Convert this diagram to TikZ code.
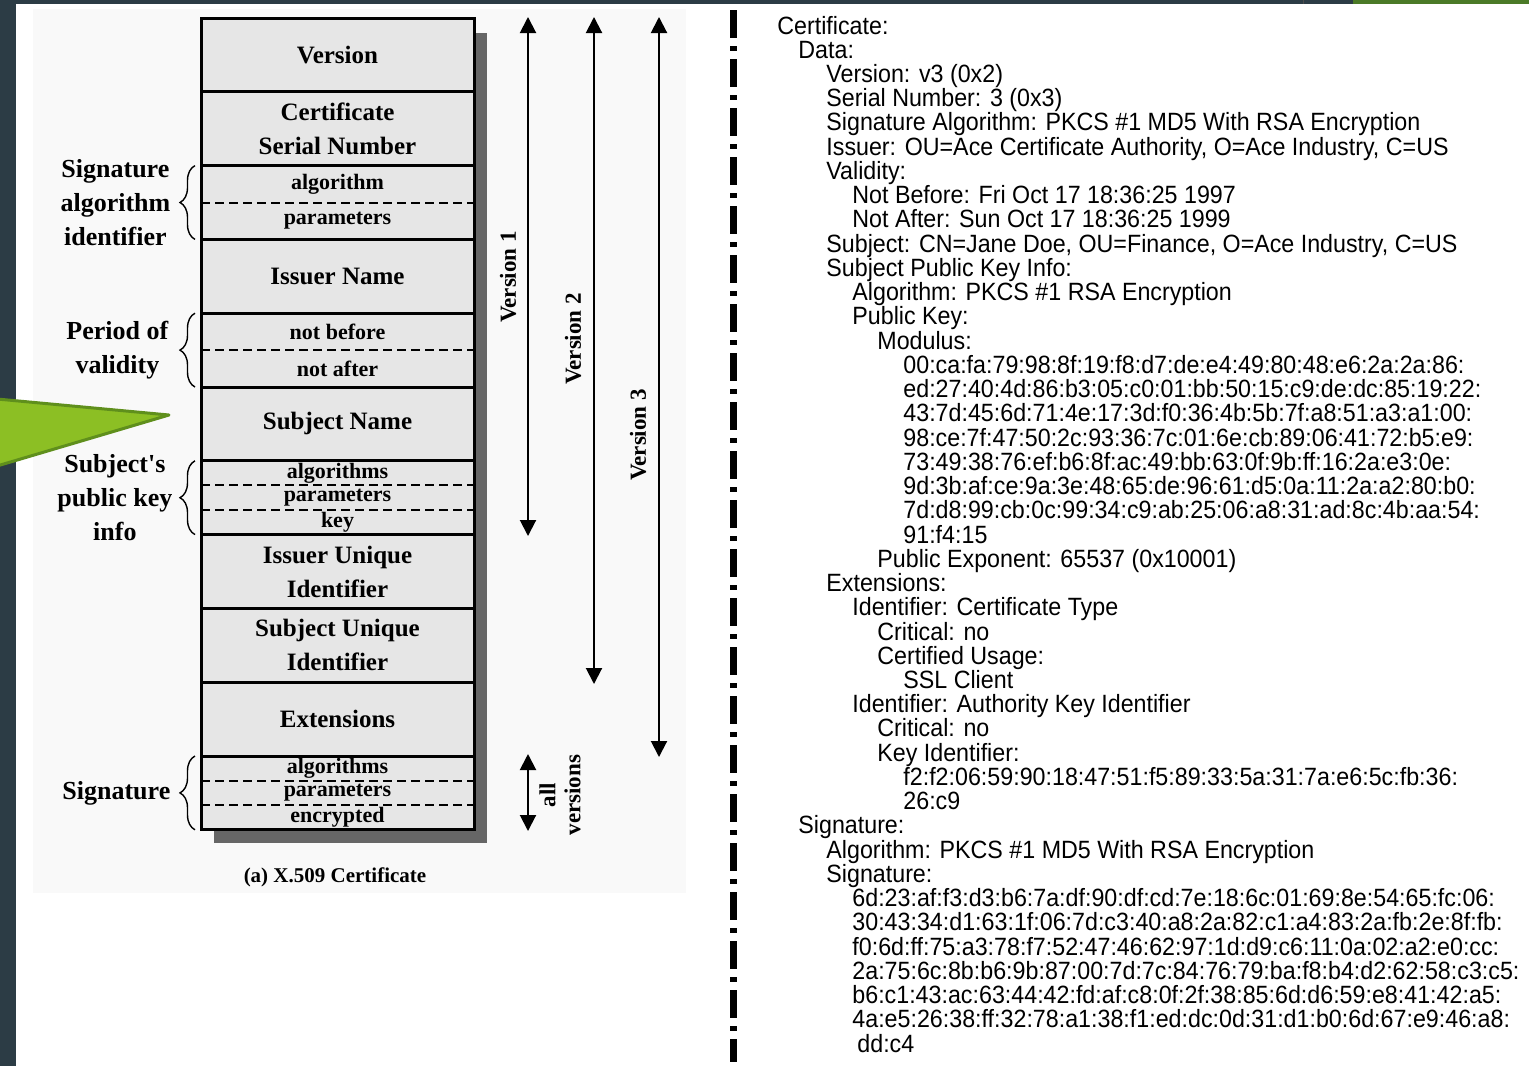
\documentclass[tikz,border=0pt]{standalone}
\usepackage{fontspec}
\setmainfont{Liberation Serif}
\newfontfamily\certfont{Liberation Sans}[FakeStretch=0.93]
\usetikzlibrary{arrows.meta,decorations.pathreplacing,calc}

\definecolor{slate}{HTML}{2C3C45}
\definecolor{leafgreen}{HTML}{8CBF24}
\definecolor{leafedge}{HTML}{5F8F1C}
\definecolor{topgreen}{HTML}{4B7A27}
\definecolor{fieldgray}{HTML}{E6E6E6}
\definecolor{shadowgray}{HTML}{666666}
\definecolor{panelgray}{HTML}{F9F9F9}

\tikzset{
  field/.style={draw, fill=fieldgray, line width=1.5pt, minimum width=136.5pt, minimum height=36.9pt,
    outer sep=0pt, inner sep=0pt, align=center, font=\fontsize{12.5}{17}\selectfont\bfseries},
  subfield/.style={inner sep=0pt, font=\fontsize{11}{11}\selectfont\bfseries},
  dashsep/.style={line width=1pt, dash pattern=on 4.5pt off 2.5pt},
  lbrace/.style={decorate, decoration={brace, amplitude=7.5pt}, line width=0.7pt},
  lbl/.style={inner sep=0pt, align=center, font=\fontsize{13}{17}\selectfont\bfseries},
  varrow/.style={{Triangle[length=8pt,width=8pt]}-{Triangle[length=8pt,width=8pt]}, line width=1pt},
  vlbl/.style={rotate=90, align=center, font=\fontsize{11.5}{12.5}\selectfont\bfseries},
  certline/.style={anchor=base west, inner sep=0pt, font=\certfont\fontsize{12.5}{12}\selectfont}
}

\begin{document}
\begin{tikzpicture}[x=0.5pt,y=-0.5pt]
  \useasboundingbox (0,0) rectangle (1529,1066);
  % frame of the slide
  \fill[white] (0,0) rectangle (1529,1066);
  \fill[slate] (0,0) rectangle (16,1066);
  \fill[slate] (0,0) rectangle (1529,4);
  \fill[topgreen] (1353,0) rectangle (1529,4);
  \draw[black!70, line width=0.5pt] (1303,0) -- (1303,4);
  \fill[panelgray] (33,9) rectangle (686,893);
  \filldraw[fill=leafgreen, draw=leafedge, line width=1.5pt, line join=round] (-3,399) -- (169,415) -- (-3,466) -- cycle;

  % certificate fields
  \fill[shadowgray] (214,33) rectangle (487,843);
  \foreach \nm/\txt [count=\i] in {ver/Version, csn/{Certificate\\Serial Number}, salg/{}, iss/{Issuer Name},
      val/{}, subj/{Subject Name}, pki/{}, iui/{Issuer Unique\\Identifier}, sui/{Subject Unique\\Identifier},
      ext/Extensions, sig/{}}
    \node[field] (\nm) at (337.5, {18+73.8*(\i-0.5)}) {\txt};

  \draw[dashsep] (salg.west) -- (salg.east);
  \node[subfield] (salg1) at ($(salg.north)!0.25!(salg.south)$) {algorithm};
  \node[subfield] (salg2) at ($(salg.north)!0.75!(salg.south)$) {parameters};

  \draw[dashsep] (val.west) -- (val.east);
  \node[subfield] (val1) at ($(val.north)!0.25!(val.south)$) {not before};
  \node[subfield] (val2) at ($(val.north)!0.75!(val.south)$) {not after};

  \foreach \nm/\ta/\tb/\tc in {pki/algorithms/parameters/key, sig/algorithms/parameters/encrypted} {
    \draw[dashsep] ($(\nm.north west)!1/3!(\nm.south west)$) -- ($(\nm.north east)!1/3!(\nm.south east)$);
    \draw[dashsep] ($(\nm.north west)!2/3!(\nm.south west)$) -- ($(\nm.north east)!2/3!(\nm.south east)$);
    \node[subfield] (\nm1) at ($(\nm.north)!1/6!(\nm.south)$) {\ta};
    \node[subfield] (\nm2) at (\nm.center) {\tb};
    \node[subfield] (\nm3) at ($(\nm.north)!5/6!(\nm.south)$) {\tc};
  }

  % braces on the left
  \draw[lbrace] ([xshift=-3pt]salg.south west) -- ([xshift=-3pt]salg.north west)
    node[midway, left=12pt, lbl] (salgl) {Signature\\algorithm\\identifier};
  \draw[lbrace] ([xshift=-3pt]val.south west) -- ([xshift=-3pt]val.north west)
    node[midway, left=13pt, lbl] (vall) {Period of\\validity};
  \draw[lbrace] ([xshift=-3pt]pki.south west) -- ([xshift=-3pt]pki.north west)
    node[midway, left=11pt, lbl] (pkil) {Subject\textquotesingle s\\public key\\info};
  \draw[lbrace] ([xshift=-3pt]sig.south west) -- ([xshift=-3pt]sig.north west)
    node[midway, left=12pt, lbl] (sigl) {Signature};

  \node[font=\fontsize{10.5}{12}\selectfont\bfseries] (cap) at (335,877) {(a) X.509 Certificate};

  % version ranges
  \coordinate (v1t) at (528,17);  \coordinate (v1b) at (528,536);
  \coordinate (v2t) at (594,17);  \coordinate (v2b) at (594,684);
  \coordinate (v3t) at (659,17);  \coordinate (v3b) at (659,757);
  \coordinate (avt) at (528,754); \coordinate (avb) at (528,831);
  \draw[varrow] (v1t) -- (v1b);
  \draw[varrow] (v2t) -- (v2b);
  \draw[varrow] (v3t) -- (v3b);
  \draw[varrow] (avt) -- (avb);
  \node[vlbl] (v1l) at (508,277) {Version 1};
  \node[vlbl] (v2l) at (573,339) {Version 2};
  \node[vlbl] (v3l) at (638,435) {Version 3};
  \node[vlbl] (avl) at (560,795) {all\\versions};

  \draw[line width=3.5pt, dash pattern=on 14pt off 4pt on 2.5pt off 4pt] (733,10) -- (733,1062);

  % printed certificate
  \foreach \x/\t [count=\i] in {
      777/{Certificate:},
      798/{Data:},
      826/{Version: v3 (0x2)},
      826/{Serial Number: 3 (0x3)},
      826/{Signature Algorithm: PKCS \#1 MD5 With RSA Encryption},
      826/{Issuer: OU=Ace Certificate Authority, O=Ace Industry, C=US},
      826/{Validity:},
      852/{Not Before: Fri Oct 17 18:36:25 1997},
      852/{Not After: Sun Oct 17 18:36:25 1999},
      826/{Subject: CN=Jane Doe, OU=Finance, O=Ace Industry, C=US},
      826/{Subject Public Key Info:},
      852/{Algorithm: PKCS \#1 RSA Encryption},
      852/{Public Key:},
      877/{Modulus:},
      903/{00:ca:fa:79:98:8f:19:f8:d7:de:e4:49:80:48:e6:2a:2a:86:},
      903/{ed:27:40:4d:86:b3:05:c0:01:bb:50:15:c9:de:dc:85:19:22:},
      903/{43:7d:45:6d:71:4e:17:3d:f0:36:4b:5b:7f:a8:51:a3:a1:00:},
      903/{98:ce:7f:47:50:2c:93:36:7c:01:6e:cb:89:06:41:72:b5:e9:},
      903/{73:49:38:76:ef:b6:8f:ac:49:bb:63:0f:9b:ff:16:2a:e3:0e:},
      903/{9d:3b:af:ce:9a:3e:48:65:de:96:61:d5:0a:11:2a:a2:80:b0:},
      903/{7d:d8:99:cb:0c:99:34:c9:ab:25:06:a8:31:ad:8c:4b:aa:54:},
      903/{91:f4:15},
      877/{Public Exponent: 65537 (0x10001)},
      826/{Extensions:},
      852/{Identifier: Certificate Type},
      877/{Critical: no},
      877/{Certified Usage:},
      903/{SSL Client},
      852/{Identifier: Authority Key Identifier},
      877/{Critical: no},
      877/{Key Identifier:},
      903/{f2:f2:06:59:90:18:47:51:f5:89:33:5a:31:7a:e6:5c:fb:36:},
      903/{26:c9},
      798/{Signature:},
      826/{Algorithm: PKCS \#1 MD5 With RSA Encryption},
      826/{Signature:},
      852/{6d:23:af:f3:d3:b6:7a:df:90:df:cd:7e:18:6c:01:69:8e:54:65:fc:06:},
      852/{30:43:34:d1:63:1f:06:7d:c3:40:a8:2a:82:c1:a4:83:2a:fb:2e:8f:fb:},
      852/{f0:6d:ff:75:a3:78:f7:52:47:46:62:97:1d:d9:c6:11:0a:02:a2:e0:cc:},
      852/{2a:75:6c:8b:b6:9b:87:00:7d:7c:84:76:79:ba:f8:b4:d2:62:58:c3:c5:},
      852/{b6:c1:43:ac:63:44:42:fd:af:c8:0f:2f:38:85:6d:d6:59:e8:41:42:a5:},
      852/{4a:e5:26:38:ff:32:78:a1:38:f1:ed:dc:0d:31:d1:b0:6d:67:e9:46:a8:},
      857/{dd:c4}}
    \node[certline] (c\i) at (\x, {34+24.24*(\i-1)}) {\t};
\end{tikzpicture}
\end{document}
